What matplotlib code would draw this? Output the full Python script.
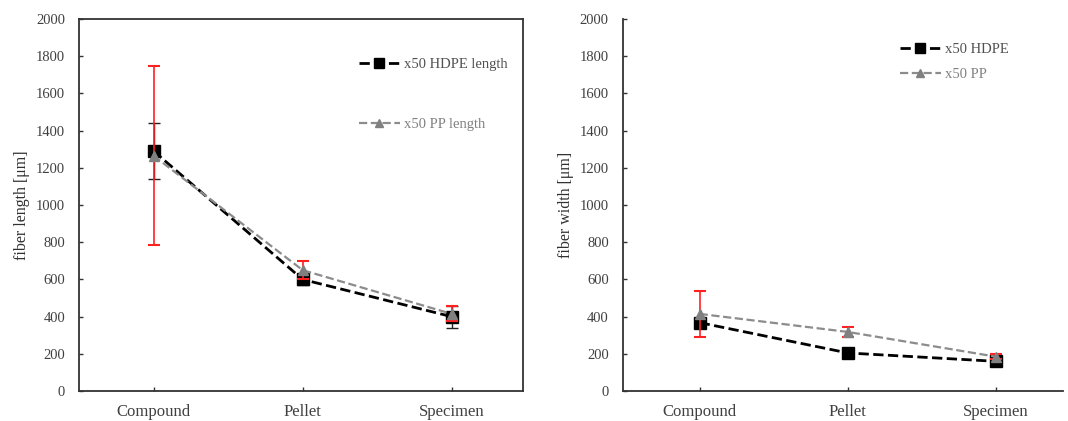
import matplotlib.pyplot as plt
import numpy as np

plt.rcParams['font.family'] = ['Liberation Serif', 'DejaVu Serif']

categories = ['Compound', 'Pellet', 'Specimen']

# fiber length [um]
hdpe_length = [1290, 600, 400]
hdpe_length_err = [150, 30, 60]
pp_length = [1265, 650, 415]
pp_length_err = [480, 50, 40]

# fiber width [um]
hdpe_width = [368, 205, 160]
hdpe_width_err = [10, 8, 8]
pp_width = [415, 318, 185]
pp_width_err = [125, 25, 12]

x = np.arange(len(categories))
txt = '#404040'


def draw(ax, hdpe, hdpe_err, pp, pp_err, labels, ylabel, spacing, leg_loc):
    ax.errorbar(x, hdpe, yerr=hdpe_err, fmt='none', ecolor='#222222',
                elinewidth=1.0, capsize=4, capthick=1.0, zorder=2)
    ax.errorbar(x, pp, yerr=pp_err, fmt='none', ecolor='#ff2020',
                elinewidth=1.2, capsize=4, capthick=1.5, zorder=3.5)
    ax.plot(x, hdpe, ls='--', color='black', lw=2.0, marker='s', ms=9,
            mfc='black', mec='black', label=labels[0], zorder=3)
    ax.plot(x, pp, ls='--', color='#8c8c8c', lw=1.6, marker='^', ms=7,
            mfc='#808080', mec='#808080', label=labels[1], zorder=4)
    ax.set_ylim(0, 2000)
    ax.set_yticks(np.arange(0, 2001, 200))
    ax.set_xticks(x)
    ax.set_xticklabels(categories)
    ax.set_ylabel(ylabel, fontsize=11.5, color='#303030')
    ax.tick_params(direction='in', length=3, width=1, colors='#333333',
                   labelcolor=txt, labelsize=10.5)
    ax.tick_params(axis='x', labelsize=12, pad=9)
    ax.tick_params(axis='y', pad=10)
    for s in ax.spines.values():
        s.set_color('#333333')
        s.set_linewidth(1.3)
    leg = ax.legend(loc='upper left', bbox_to_anchor=leg_loc, frameon=False,
                    fontsize=10.5, labelspacing=spacing, handlelength=2.8,
                    handletextpad=0.3, markerscale=0.75)
    leg.get_texts()[0].set_color('#505050')
    leg.get_texts()[1].set_color('#808080')


fig = plt.figure(figsize=(10.68, 4.21), dpi=100)
ax1 = fig.add_axes([0.074, 0.071, 0.416, 0.884])
ax2 = fig.add_axes([0.583, 0.071, 0.412, 0.884])

draw(ax1, hdpe_length, hdpe_length_err, pp_length, pp_length_err,
     ['x50 HDPE length', 'x50 PP length'], 'fiber length [μm]', 3.2, (0.6, 0.93))
ax1.set_xlim(-0.5, 2.48)

draw(ax2, hdpe_width, hdpe_width_err, pp_width, pp_width_err,
     ['x50 HDPE', 'x50 PP'], 'fiber width [μm]', 0.8, (0.6, 0.97))
ax2.set_xlim(-0.52, 2.45)
ax2.spines['top'].set_visible(False)
ax2.spines['right'].set_visible(False)

fig.savefig('out.png', dpi=100)
